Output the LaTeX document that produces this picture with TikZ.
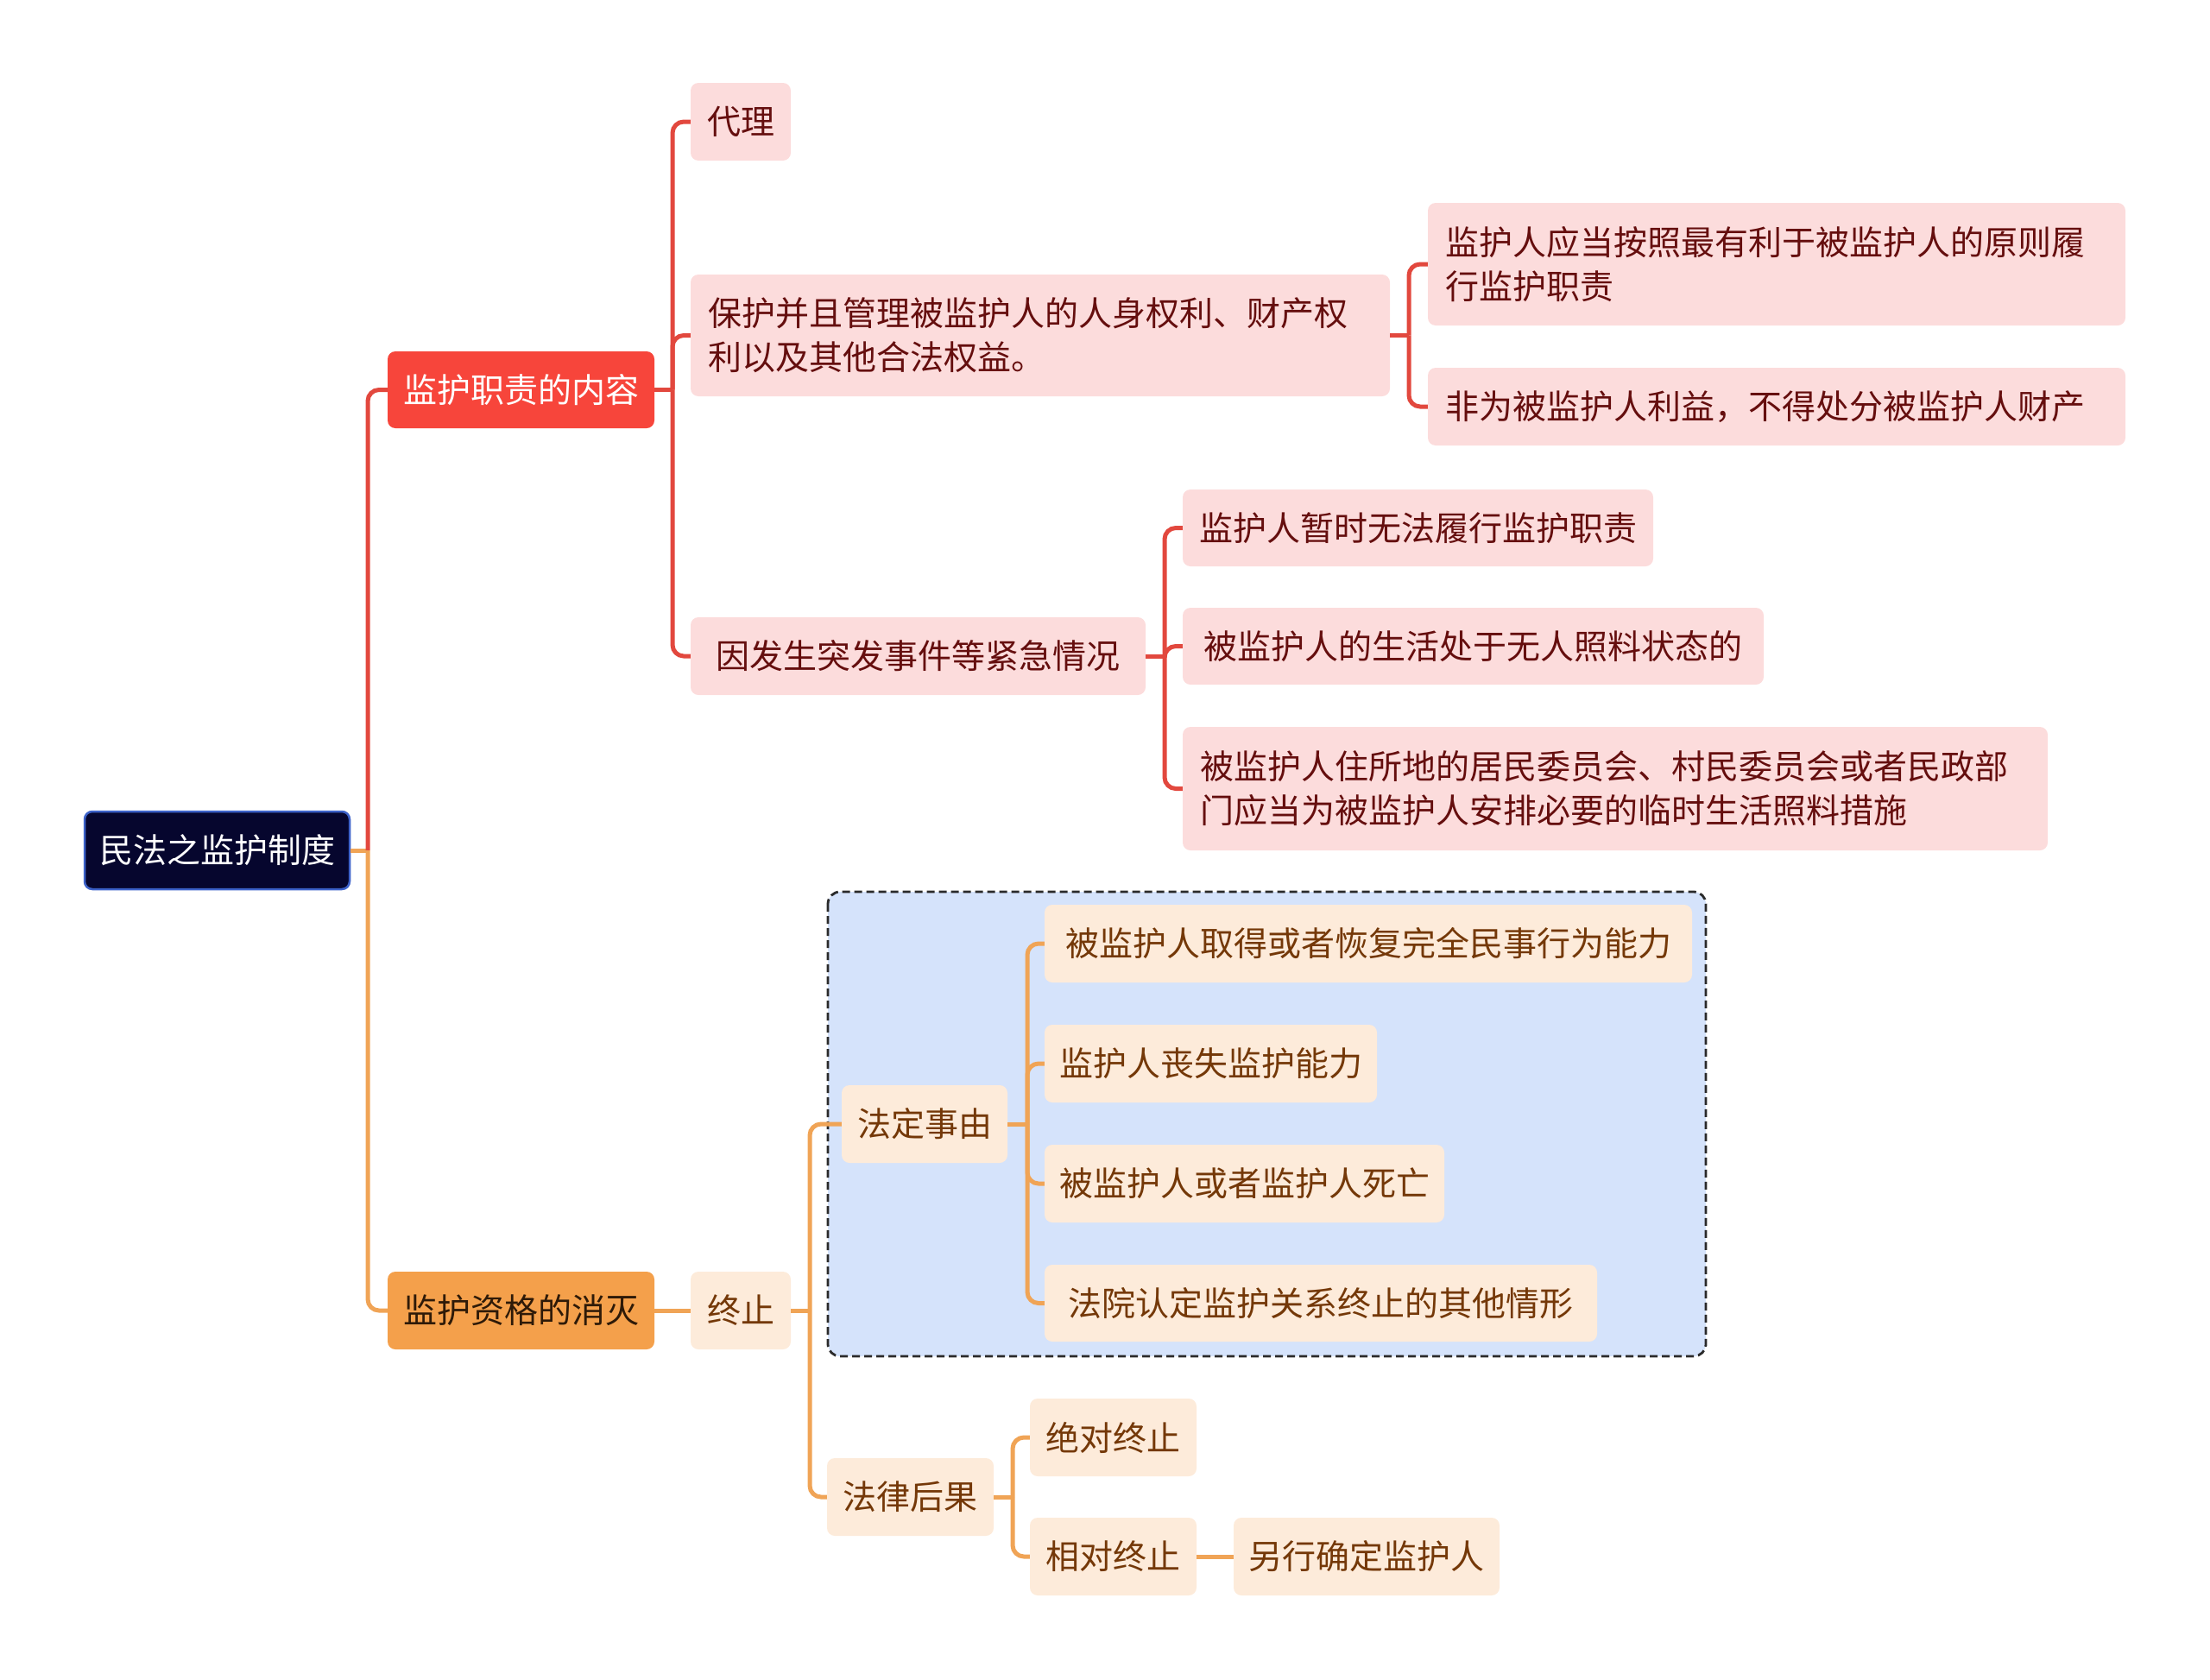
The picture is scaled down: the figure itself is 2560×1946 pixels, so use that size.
\documentclass[tikz,border=0pt]{standalone}
\usepackage{fontspec}
\setmainfont{Noto Sans CJK SC}
\usetikzlibrary{calc}
\definecolor{rootc}{HTML}{06062E}
\definecolor{rootb}{HTML}{3D62C9}
\definecolor{redc}{HTML}{F7453B}
\definecolor{redl}{HTML}{E2483E}
\definecolor{orc}{HTML}{F4A04B}
\definecolor{orl}{HTML}{F0A456}
\definecolor{pinkc}{HTML}{FCDCDC}
\definecolor{peachc}{HTML}{FDEBDA}
\definecolor{darkred}{HTML}{650E0E}
\definecolor{brownc}{HTML}{743808}
\definecolor{darkc}{HTML}{2E1A08}
\definecolor{boxc}{HTML}{D5E3FB}
\definecolor{boxb}{HTML}{2A2A2A}
\newcommand{\bx}[7]{\node[#6, minimum width={(#4-#2)*1pt}, minimum height={(#5-#3)*1pt}] (#1) at ({(#2+#4)/2},{(#3+#5)/2}) {#7};}
\tikzset{
  nbase/.style={rounded corners=9pt, inner sep=0pt, font=\fontsize{39}{51}\selectfont},
  rootbox/.style={nbase, fill=rootc, draw=rootb, line width=2.5pt, text=white},
  redbox/.style={nbase, fill=redc, text=white},
  orbox/.style={nbase, fill=orc, text=darkc},
  pinkbox/.style={nbase, fill=pinkc, text=darkred},
  peachbox/.style={nbase, fill=peachc, text=brownc},
  multi/.style={inner xsep=20pt, text width=#1, align=left},
  rl/.style={draw=redl, line width=5pt, rounded corners=13pt},
  ol/.style={draw=orl, line width=5pt, rounded corners=13pt},
}
\begin{document}
\begin{tikzpicture}[x=1pt,y=-1pt]
\useasboundingbox (0,0) rectangle (2560,1946);
% dashed group box
\draw[draw=boxb, fill=boxc, line width=2.8pt, dash pattern=on 9pt off 5pt, rounded corners=14pt] (959,1033) rectangle (1976,1571);
% nodes
\bx{root}{98}{940}{405}{1030}{rootbox}{民法之监护制度}
\bx{la}{449}{407}{758}{496}{redbox}{监护职责的内容}
\bx{lb}{449}{1473}{758}{1563}{orbox}{监护资格的消灭}
\bx{dl}{800}{96}{916}{186}{pinkbox}{代理}
\bx{bh}{800}{318}{1610}{459}{pinkbox,multi=770pt}{保护并且管理被监护人的人身权利、财产权\\利以及其他合法权益。}
\bx{yf}{800}{715}{1327}{805}{pinkbox}{因发生突发事件等紧急情况}
\bx{ja}{1654}{235}{2462}{377}{pinkbox,multi=768pt}{监护人应当按照最有利于被监护人的原则履\\行监护职责}
\bx{jb}{1654}{426}{2462}{516}{pinkbox,multi=768pt}{非为被监护人利益，不得处分被监护人财产}
\bx{ka}{1370}{567}{1915}{656}{pinkbox}{监护人暂时无法履行监护职责}
\bx{kb}{1370}{704}{2043}{793}{pinkbox}{被监护人的生活处于无人照料状态的}
\bx{kc}{1370}{842}{2372}{985}{pinkbox,multi=962pt}{被监护人住所地的居民委员会、村民委员会或者民政部\\门应当为被监护人安排必要的临时生活照料措施}
\bx{zz}{800}{1473}{916}{1563}{peachbox}{终止}
\bx{fd}{975}{1257}{1167}{1347}{peachbox}{法定事由}
\bx{ma}{1210}{1048}{1960}{1138}{peachbox}{被监护人取得或者恢复完全民事行为能力}
\bx{mb}{1210}{1187}{1595}{1277}{peachbox}{监护人丧失监护能力}
\bx{mc}{1210}{1326}{1673}{1416}{peachbox}{被监护人或者监护人死亡}
\bx{md}{1210}{1465}{1850}{1554}{peachbox}{法院认定监护关系终止的其他情形}
\bx{fl}{958}{1689}{1151}{1779}{peachbox}{法律后果}
\bx{na}{1193}{1620}{1386}{1710}{peachbox}{绝对终止}
\bx{nb}{1193}{1758}{1386}{1848}{peachbox}{相对终止}
\bx{nc}{1429}{1758}{1737}{1848}{peachbox}{另行确定监护人}
% bar coordinates
\coordinate (b0) at (426,0);
\coordinate (b1) at (779,0);
\coordinate (b2) at (1632,0);
\coordinate (b3) at (1349,0);
\coordinate (b4) at (938,0);
\coordinate (b5) at (1190,0);
\coordinate (b6) at (1173,0);
% root
\draw[ol] (root.east) -- (root.east -| b0);
\draw[rl] (root.east -| b0) |- (la.west);
\draw[ol] (root.east -| b0) |- (lb.west);
% red branch
\draw[rl] (la.east) -- (la.east -| b1);
\draw[rl] (la.east -| b1) |- (dl.west);
\draw[rl] (la.east -| b1) |- (bh.west);
\draw[rl] (la.east -| b1) |- (yf.west);
\draw[rl] (bh.east) -- (bh.east -| b2);
\draw[rl] (bh.east -| b2) |- (ja.west);
\draw[rl] (bh.east -| b2) |- (jb.west);
\draw[rl] (yf.east) -- (yf.east -| b3);
\draw[rl] (yf.east -| b3) |- (ka.west);
\draw[rl] (yf.east -| b3) |- (kb.west);
\draw[rl] (yf.east -| b3) |- (kc.west);
% orange branch
\draw[ol] (lb.east) -- (zz.west);
\draw[ol] (zz.east) -- (zz.east -| b4);
\draw[ol] (zz.east -| b4) |- (fd.west);
\draw[ol] (zz.east -| b4) |- (fl.west);
\draw[ol] (fd.east) -- (fd.east -| b5);
\draw[ol] (fd.east -| b5) |- (ma.west);
\draw[ol] (fd.east -| b5) |- (mb.west);
\draw[ol] (fd.east -| b5) |- (mc.west);
\draw[ol] (fd.east -| b5) |- (md.west);
\draw[ol] (fl.east) -- (fl.east -| b6);
\draw[ol] (fl.east -| b6) |- (na.west);
\draw[ol] (fl.east -| b6) |- (nb.west);
\draw[ol] (nb.east) -- (nc.west);
\end{tikzpicture}
\end{document}
